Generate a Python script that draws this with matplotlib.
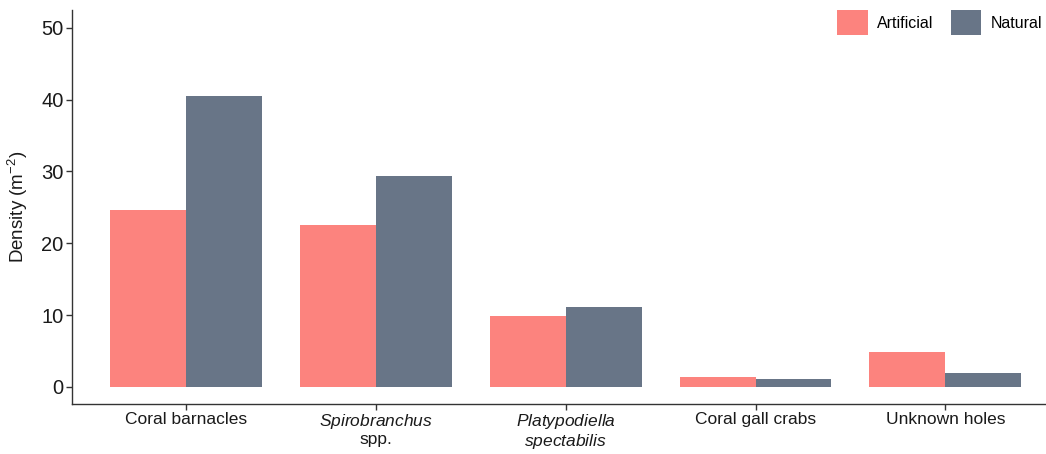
import matplotlib
matplotlib.use("Agg")
import matplotlib.pyplot as plt
from matplotlib.patches import Patch
import numpy as np

plt.rcParams['font.family'] = ['Liberation Sans', 'DejaVu Sans']
plt.rcParams['mathtext.fontset'] = 'custom'
plt.rcParams['mathtext.rm'] = 'Liberation Sans'
plt.rcParams['mathtext.it'] = 'Liberation Sans:italic'
plt.rcParams['mathtext.default'] = 'regular'

categories = ["Coral barnacles", "$\\mathit{Spirobranchus}$\nspp.",
              "$\\mathit{Platypodiella}$\n$\\mathit{spectabilis}$",
              "Coral gall crabs", "Unknown holes"]
artificial = [24.6, 22.6, 9.8, 1.4, 4.9]
natural = [40.5, 29.4, 11.1, 1.1, 1.9]
series_names = ["Artificial", "Natural"]
colors = ["#FC837E", "#687587"]
yticks = [0, 10, 20, 30, 40, 50]

fig = plt.figure(figsize=(10.46, 4.54), dpi=100)
ax = fig.add_axes([72/1046, 1 - 404/454, (1046 - 72)/1046, (404 - 10)/454])

x = np.arange(len(categories))
w = 0.4
ax.bar(x - w/2, artificial, w, color=colors[0], edgecolor='none')
ax.bar(x + w/2, natural, w, color=colors[1], edgecolor='none')

ax.set_xlim(-0.6, 4.53)
ax.set_ylim(-2.4, 52.5)
ax.set_yticks(yticks)
ax.set_xticks(x)
ax.set_xticklabels(categories, fontsize=12.5, color='#1a1a1a', linespacing=1.08)
ax.tick_params(axis='y', labelsize=14.5, colors='#333333', labelcolor='#1a1a1a',
               length=4, width=1, pad=2)
ax.tick_params(axis='x', colors='#333333', labelcolor='#1a1a1a', length=4, width=1, pad=2)
for s in ['top', 'right']:
    ax.spines[s].set_visible(False)
for s in ['left', 'bottom']:
    ax.spines[s].set_color('#333333')
    ax.spines[s].set_linewidth(1)

ax.set_ylabel("Density (m$^{-2}$)", fontsize=13.5, color='#1a1a1a', labelpad=8)

handles = [Patch(facecolor=c, edgecolor='none') for c in colors]
leg = ax.legend(handles, series_names, loc='upper right', ncol=2, frameon=False,
                fontsize=11.5, handlelength=1.9, handleheight=2.0,
                columnspacing=1.1, handletextpad=0.6, borderaxespad=0.0,
                bbox_to_anchor=(1.003, 1.015))

fig.savefig("out.png", dpi=100)
